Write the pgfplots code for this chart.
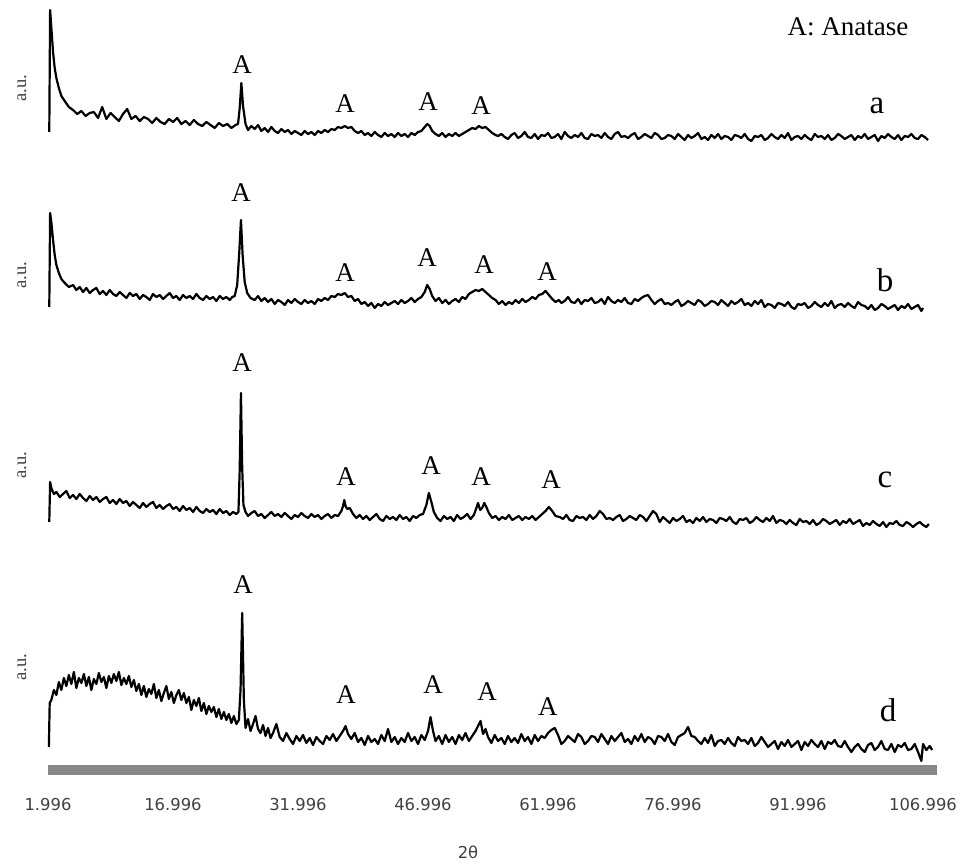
\documentclass[border=0pt]{standalone}
\usepackage{fontspec}
\setmainfont{Liberation Serif}
\newfontfamily\tickfont{DejaVu Sans}
\usepackage{pgfplots}
\usepackage{pgfplotstable}
\pgfplotsset{compat=1.18}

% columns: 2theta, vertical position (pixel rows from top of figure)
\pgfplotstableread{
x py
2.15 132
2.25 10
2.4 28
2.6 52
2.8 68
3.0 78
3.3 88
3.6 96
4.0 101
4.5 107
5.0 110
5.5 114
6.0 111
6.5 116
7.0 113
7.5 112
8.0 118
8.5 107
9.0 119
9.5 113
10.0 117
10.5 121
11.0 114
11.5 109
12.0 119
12.5 116
13.0 121
13.5 117
14.0 119
14.5 123
15.0 118
15.5 122
16.0 124
16.5 119
17.0 122
17.5 118
18.0 124
18.5 121
19.0 125
19.5 120
20.0 124
20.5 126
21.0 122
21.5 125
22.0 128
22.5 123
23.0 126
23.5 124
24.0 128
24.5 125
24.8 124
25.0 108
25.2 83
25.4 106
25.7 124
26.0 130
26.4 126
26.8 129
27.2 125
27.6 131
28.0 128
28.4 132
28.8 127
29.2 131
29.6 133
30.0 129
30.4 132
30.8 130
31.2 134
31.6 131
32.0 133
32.4 135
32.8 131
33.2 134
33.6 132
34.0 135
34.4 131
34.8 133
35.2 130
35.6 132
36.0 129
36.4 130
36.8 127
37.2 128
37.6 126
38.0 128
38.4 127
38.8 131
39.2 133
39.6 131
40.0 135
40.4 133
40.8 136
41.2 132
41.6 135
42.0 137
42.4 133
42.8 136
43.2 134
43.6 137
44.0 133
44.4 136
44.8 134
45.2 137
45.6 133
46.0 135
46.4 132
46.8 131
47.2 127
47.5 124
47.8 126
48.1 131
48.5 134
48.9 136
49.3 133
49.7 137
50.1 134
50.5 136
50.9 133
51.3 136
51.7 134
52.1 132
52.5 130
52.9 128
53.3 129
53.7 126
54.1 128
54.5 127
54.9 130
55.3 133
55.7 135
56.0 136
56.4 134
56.8 137
57.2 139
57.6 135
58.0 133
58.4 138
58.8 136
59.2 132
59.6 137
60.0 138
60.4 134
60.8 139
61.2 135
61.6 136
62.0 133
62.4 138
62.8 137
63.2 134
63.6 139
64.0 132
64.4 136
64.8 138
65.2 135
65.6 137
66.0 133
66.4 138
66.8 139
67.2 134
67.6 136
68.0 135
68.4 138
68.8 133
69.2 137
69.6 139
70.0 134
70.4 132
70.8 137
71.2 136
71.6 138
72.0 135
72.4 133
72.8 139
73.2 137
73.6 134
74.0 136
74.4 138
74.8 133
75.2 135
75.6 139
76.0 138
76.4 135
76.8 136
77.2 139
77.6 134
78.0 137
78.4 140
78.8 135
79.2 138
79.6 136
80.0 133
80.4 139
80.8 137
81.2 140
81.6 135
82.0 138
82.4 134
82.8 139
83.2 136
83.6 137
84.0 140
84.4 135
84.8 136
85.2 138
85.6 134
86.0 139
86.4 141
86.8 136
87.2 137
87.6 135
88.0 140
88.4 138
88.8 134
89.2 137
89.6 139
90.0 135
90.4 138
90.8 133
91.2 140
91.6 137
92.0 136
92.4 139
92.8 135
93.2 138
93.6 140
94.0 134
94.4 137
94.8 136
95.2 139
95.6 135
96.0 140
96.4 138
96.8 134
97.2 136
97.6 139
98.0 137
98.4 135
98.8 140
99.2 136
99.6 138
100.0 134
100.4 139
100.8 137
101.2 135
101.6 141
102.0 136
102.4 138
102.8 134
103.2 137
103.6 139
104.0 135
104.4 140
104.8 136
105.2 137
105.6 134
106.0 138
106.4 139
106.8 135
107.2 137
107.6 140
}\tA

\pgfplotstableread{
x py
2.15 307
2.25 213
2.4 222
2.6 240
2.8 255
3.0 265
3.3 273
3.6 279
4.0 283
4.5 287
5.0 285
5.4 290
5.8 287
6.2 292
6.6 288
7.0 293
7.4 290
7.8 288
8.2 294
8.6 291
9.0 295
9.4 290
9.8 294
10.2 296
10.6 292
11.0 295
11.4 298
11.8 293
12.2 296
12.6 294
13.0 299
13.4 295
13.8 297
14.2 300
14.6 294
15.0 297
15.4 295
15.8 299
16.2 296
16.6 293
17.0 298
17.4 296
17.8 300
18.2 295
18.6 298
19.0 296
19.4 299
19.8 294
20.2 298
20.6 300
21.0 296
21.4 299
21.8 297
22.2 301
22.6 296
23.0 299
23.4 297
23.8 300
24.1 297
24.4 296
24.7 285
24.95 252
25.15 220
25.35 255
25.6 282
25.9 293
26.3 298
26.8 300
27.2 296
27.6 301
28.0 298
28.4 302
28.8 299
29.2 304
29.6 300
30.0 302
30.4 305
30.8 300
31.2 303
31.6 299
32.0 302
32.4 304
32.8 300
33.2 303
33.6 301
34.0 304
34.4 299
34.8 301
35.2 298
35.6 300
36.0 296
36.4 297
36.8 294
37.2 295
37.6 293
38.0 297
38.4 296
38.8 301
39.2 299
39.6 304
40.0 302
40.4 306
40.8 303
41.2 308
41.6 304
42.0 306
42.4 302
42.8 305
43.2 303
43.6 301
44.0 304
44.4 300
44.8 303
45.2 301
45.6 298
46.0 302
46.4 299
46.8 297
47.2 292
47.5 285
47.8 289
48.1 296
48.5 301
48.9 298
49.3 303
49.7 300
50.1 304
50.5 301
50.9 299
51.3 302
51.7 297
52.1 299
52.5 294
52.9 292
53.3 290
53.7 291
54.1 289
54.5 292
54.9 295
55.3 298
55.7 300
56.1 304
56.5 301
56.9 305
57.3 302
57.7 304
58.1 300
58.5 303
58.9 299
59.3 302
59.7 300
60.1 297
60.5 299
60.9 295
61.3 294
61.7 291
62.1 295
62.5 299
62.9 302
63.3 300
63.6 303
64.0 301
64.4 297
64.8 302
65.2 303
65.6 299
66.0 304
66.4 300
66.8 301
67.2 298
67.6 303
68.0 302
68.4 299
68.8 304
69.2 297
69.6 301
70.0 303
70.4 300
70.8 302
71.2 298
71.6 303
72.0 304
72.4 299
72.8 301
73.2 298
73.6 296
74.0 295
74.4 300
74.8 304
75.2 301
75.6 299
76.0 304
76.4 303
76.8 305
77.2 302
77.6 300
78.0 306
78.4 304
78.8 301
79.2 303
79.6 305
80.0 300
80.4 302
80.8 306
81.2 304
81.6 301
82.0 302
82.4 305
82.8 300
83.2 303
83.6 306
84.0 301
84.4 304
84.8 302
85.2 299
85.6 305
86.0 303
86.4 306
86.8 301
87.2 304
87.6 300
88.0 307
88.4 304
88.8 305
89.2 308
89.6 303
90.0 304
90.4 306
90.8 302
91.2 307
91.6 309
92.0 304
92.4 305
92.8 303
93.2 308
93.6 306
94.0 302
94.4 305
94.8 307
95.2 303
95.6 306
96.0 301
96.4 308
96.8 305
97.2 304
97.6 307
98.0 303
98.4 306
98.8 308
99.2 302
99.6 305
100.0 306
100.4 309
100.8 305
101.2 310
101.6 308
102.0 304
102.4 306
102.8 309
103.2 307
103.6 305
104.0 310
104.4 306
104.8 308
105.2 304
105.6 309
106.0 307
106.4 305
106.8 311
107.0 308
}\tB

\pgfplotstableread{
x py
2.15 522
2.25 482
2.4 488
2.7 494
3.0 492
3.4 497
3.8 494
4.2 491
4.6 498
5.0 495
5.4 499
5.8 494
6.2 498
6.6 501
7.0 496
7.4 500
7.8 497
8.2 502
8.6 499
9.0 497
9.4 503
9.8 500
10.2 504
10.6 499
11.0 503
11.4 501
11.8 506
12.2 502
12.6 505
13.0 508
13.4 503
13.8 507
14.2 504
14.6 502
15.0 508
15.4 505
15.8 509
16.2 506
16.6 504
17.0 509
17.4 507
17.8 511
18.2 506
18.6 510
19.0 508
19.4 512
19.8 507
20.2 511
20.6 513
21.0 509
21.4 512
21.8 510
22.2 514
22.6 509
23.0 513
23.4 511
23.8 515
24.2 512
24.6 514
24.85 512
25.0 470
25.15 393
25.3 468
25.45 505
25.7 512
26.0 516
26.4 513
26.8 511
27.2 516
27.6 514
28.0 518
28.4 515
28.8 512
29.2 516
29.6 514
30.0 517
30.4 513
30.8 516
31.2 519
31.6 515
32.0 517
32.4 513
32.8 516
33.2 518
33.6 514
34.0 517
34.4 515
34.8 519
35.2 516
35.6 514
36.0 518
36.4 515
36.8 516
37.2 511
37.4 506
37.55 500
37.7 506
37.9 509
38.2 508
38.6 514
39.0 518
39.4 515
39.8 519
40.2 516
40.6 520
41.0 517
41.4 514
41.8 519
42.2 521
42.6 516
43.0 519
43.4 517
43.8 520
44.2 515
44.6 519
45.0 517
45.4 521
45.8 516
46.2 518
46.6 515
47.0 514
47.4 505
47.7 493
48.0 502
48.3 512
48.7 518
49.1 521
49.5 516
49.9 519
50.3 517
50.7 521
51.1 515
51.5 519
51.9 517
52.3 514
52.7 519
53.1 515
53.4 508
53.6 503
53.85 510
54.1 508
54.35 503
54.6 507
54.9 513
55.3 518
55.7 516
56.1 520
56.5 517
56.9 519
57.3 515
57.7 520
58.1 518
58.5 516
58.9 520
59.3 517
59.7 519
60.1 516
60.5 520
60.9 517
61.3 514
61.7 511
62.1 507
62.5 511
62.9 516
63.4 517
63.8 519
64.2 515
64.6 520
65.0 521
65.4 516
65.8 518
66.2 517
66.6 520
67.0 515
67.4 519
67.8 516
68.2 511
68.6 514
69.0 519
69.4 518
69.8 520
70.2 517
70.6 515
71.0 521
71.4 519
71.8 516
72.2 518
72.6 520
73.0 515
73.4 517
73.8 521
74.2 516
74.6 511
75.0 514
75.4 522
75.8 517
76.2 520
76.6 523
77.0 518
77.4 521
77.8 519
78.2 516
78.6 522
79.0 520
79.4 523
79.8 518
80.2 521
80.6 517
81.0 522
81.4 519
81.8 520
82.2 523
82.6 518
83.0 519
83.4 521
83.8 517
84.2 522
84.6 524
85.0 519
85.4 520
85.8 518
86.2 523
86.6 521
87.0 517
87.4 520
87.8 522
88.2 518
88.6 521
89.0 516
89.4 523
89.8 520
90.2 521
90.6 524
91.0 520
91.4 523
91.8 525
92.2 519
92.6 522
93.0 521
93.4 524
93.8 520
94.2 525
94.6 523
95.0 519
95.4 521
95.8 524
96.2 522
96.6 520
97.0 525
97.4 521
97.8 523
98.2 519
98.6 524
99.0 522
99.4 520
99.8 526
100.2 523
100.6 525
101.0 521
101.4 524
101.8 526
102.2 522
102.6 527
103.0 523
103.4 524
103.8 521
104.2 525
104.6 526
105.0 522
105.4 524
105.8 527
106.2 524
106.6 522
107.0 525
107.4 527
107.7 524
}\tC

\pgfplotstableread{
x py
2.1 747
2.2 703
2.4 700
2.7 690
3.0 695
3.3 682
3.6 690
3.9 678
4.2 686
4.5 675
4.8 684
5.1 672
5.4 688
5.7 678
6.0 683
6.3 674
6.6 686
6.9 677
7.2 690
7.5 679
7.8 684
8.1 673
8.4 682
8.7 677
9.0 688
9.3 676
9.6 683
9.9 674
10.2 681
10.5 672
10.8 685
11.1 678
11.4 684
11.7 676
12.0 687
12.3 680
12.6 691
12.9 684
13.2 695
13.5 686
13.8 697
14.1 689
14.4 694
14.7 684
15.0 698
15.3 690
15.6 701
15.9 693
16.2 686
16.5 699
16.8 692
17.1 703
17.4 695
17.7 690
18.0 700
18.3 693
18.6 703
18.9 697
19.2 710
19.5 700
19.8 706
20.1 698
20.4 711
20.7 703
21.0 714
21.3 706
21.6 712
21.9 707
22.2 717
22.5 709
22.8 719
23.1 712
23.4 720
23.7 714
24.0 723
24.3 716
24.6 724
24.9 720
25.1 690
25.3 613
25.5 700
25.7 728
26.0 719
26.3 731
26.6 724
26.9 716
27.2 729
27.5 733
27.8 725
28.1 736
28.4 728
28.7 738
29.0 733
29.4 724
29.8 737
30.2 741
30.6 733
31.0 739
31.4 744
31.8 736
32.2 741
32.6 735
33.0 743
33.4 738
33.8 745
34.2 737
34.6 741
35.0 744
35.4 736
35.8 740
36.2 734
36.6 741
37.0 736
37.4 731
37.7 726
38.0 734
38.4 739
38.8 733
39.2 742
39.6 738
40.0 745
40.4 736
40.8 742
41.2 739
41.6 744
42.0 735
42.4 741
42.8 729
43.2 742
43.6 737
44.0 744
44.4 738
44.8 742
45.2 733
45.6 741
46.0 737
46.4 744
46.8 735
47.2 740
47.6 731
47.9 717
48.2 731
48.5 741
48.9 736
49.3 744
49.7 735
50.1 742
50.5 737
50.9 744
51.3 735
51.7 740
52.1 733
52.5 741
52.9 736
53.3 731
53.6 726
53.9 721
54.2 734
54.5 729
54.8 737
55.2 743
55.6 735
56.0 741
56.4 738
56.8 744
57.2 736
57.6 742
58.0 738
58.4 743
58.8 734
59.2 741
59.6 737
60.0 744
60.4 735
60.8 741
61.2 736
61.6 738
62.0 733
62.4 730
62.8 728
63.2 735
63.6 744
64.0 741
64.4 736
64.8 739
65.2 742
65.6 734
66.0 737
66.4 744
66.8 741
67.2 736
67.6 737
68.0 742
68.4 734
68.8 739
69.2 744
69.6 736
70.0 741
70.4 737
70.8 733
71.2 742
71.6 739
72.0 744
72.4 736
72.8 741
73.2 734
73.6 742
74.0 737
74.4 739
74.8 744
75.2 736
75.6 737
76.0 741
76.4 734
76.8 742
77.2 745
77.6 737
78.0 735
78.4 733
78.8 727
79.2 736
79.6 737
80.0 741
80.4 744
80.8 738
81.2 743
81.6 735
82.0 746
82.4 741
82.8 740
83.2 744
83.6 738
84.0 743
84.4 746
84.8 737
85.2 741
85.6 740
86.0 744
86.4 738
86.8 746
87.2 743
87.6 737
88.0 742
88.4 747
88.8 744
89.2 741
89.6 749
90.0 742
90.4 746
90.8 740
91.2 747
91.6 744
92.0 741
92.4 750
92.8 742
93.2 746
93.6 740
94.0 744
94.4 747
94.8 741
95.2 749
95.6 742
96.0 744
96.4 740
96.8 746
97.2 747
97.6 741
98.0 747
98.4 752
98.8 747
99.2 744
99.6 749
100.0 752
100.4 745
100.8 743
101.2 750
101.6 747
102.0 741
102.4 749
102.8 750
103.2 744
103.6 752
104.0 745
104.4 747
104.8 743
105.2 750
105.6 749
106.0 744
106.4 752
106.8 761
107.0 744
107.4 750
107.8 746
108.1 750
}\tD

\begin{document}
\begin{tikzpicture}
\begin{axis}[
  scale only axis,
  width=444.5pt, height=385pt,
  xmin=1.996, xmax=108.676,
  ymin=94, ymax=864,
  clip=false,
  axis x line=bottom,
  axis y line=none,
  x axis line style={-, line width=5pt, draw=black!47},
  xtick={1.996,16.996,31.996,46.996,61.996,76.996,91.996,106.996},
  xticklabels={1.996,16.996,31.996,46.996,61.996,76.996,91.996,106.996},
  major tick length=0pt,
  xticklabel style={font=\tickfont\fontsize{8.2}{9}\selectfont, text=black!75, anchor=center, yshift=-17.5pt},
]
\addplot[black, line width=1.1pt, line join=round, no markers] table[x=x, y expr=864-\thisrow{py}] {\tA};
\addplot[black, line width=1.1pt, line join=round, no markers] table[x=x, y expr=864-\thisrow{py}] {\tB};
\addplot[black, line width=1.1pt, line join=round, no markers] table[x=x, y expr=864-\thisrow{py}] {\tC};
\addplot[black, line width=1.1pt, line join=round, no markers] table[x=x, y expr=864-\thisrow{py}] {\tD};

\coordinate (bbBL) at (axis cs:-3.764,0);
\coordinate (bbTR) at (axis cs:111.556,864);

\tikzset{lblA/.style={font=\fontsize{13.5}{14}\selectfont, inner sep=0pt},
         lblP/.style={font=\fontsize{16.5}{17}\selectfont, inner sep=0pt},
         lblU/.style={font=\fontsize{9.3}{10}\selectfont, text=black!75, rotate=90, inner sep=0pt}}
% panel a
\node[lblA] at (axis cs:98.0,837) {A: Anatase};
\node[lblA] at (axis cs:25.28,799) {A};
\node[lblA] at (axis cs:37.64,760) {A};
\node[lblA] at (axis cs:47.60,762) {A};
\node[lblA] at (axis cs:53.96,758) {A};
\node[lblP] at (axis cs:101.48,758) {a};
\node[lblU] at (axis cs:-1.124,776) {a.u.};
% panel b
\node[lblA] at (axis cs:25.16,671) {A};
\node[lblA] at (axis cs:37.64,591) {A};
\node[lblA] at (axis cs:47.48,606) {A};
\node[lblA] at (axis cs:54.32,599) {A};
\node[lblA] at (axis cs:61.88,592) {A};
\node[lblP] at (axis cs:102.44,584) {b};
\node[lblU] at (axis cs:-1.124,589) {a.u.};
% panel c
\node[lblA] at (axis cs:25.28,501) {A};
\node[lblA] at (axis cs:37.76,387) {A};
\node[lblA] at (axis cs:47.96,398) {A};
\node[lblA] at (axis cs:53.96,387) {A};
\node[lblA] at (axis cs:62.36,384) {A};
\node[lblP] at (axis cs:102.44,384) {c};
\node[lblU] at (axis cs:-1.124,399) {a.u.};
% panel d
\node[lblA] at (axis cs:25.40,279) {A};
\node[lblA] at (axis cs:37.76,169) {A};
\node[lblA] at (axis cs:48.20,179) {A};
\node[lblA] at (axis cs:54.68,172) {A};
\node[lblA] at (axis cs:61.99,157) {A};
\node[lblP] at (axis cs:102.8,154) {d};
\node[lblU] at (axis cs:-1.124,197) {a.u.};
% x label
\node[font=\tickfont\fontsize{8.2}{9}\selectfont, text=black!75] at (axis cs:52.40,12) {2θ};
\end{axis}
\pgfresetboundingbox
\useasboundingbox (bbBL) rectangle (bbTR);
\end{tikzpicture}
\end{document}
